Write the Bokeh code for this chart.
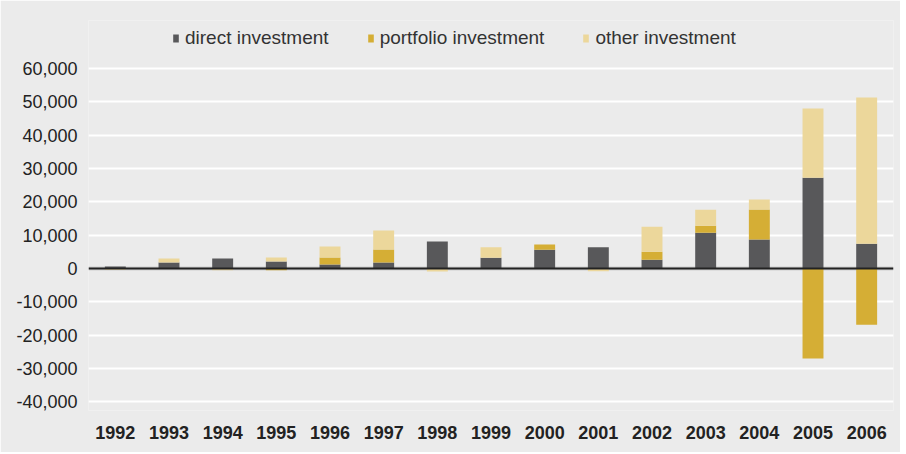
from bokeh.plotting import figure
from bokeh.models import (ColumnDataSource, FactorRange, Range1d, FixedTicker,
                          NumeralTickFormatter, Span, Legend, LegendItem)
from bokeh.embed import file_html
from bokeh.resources import INLINE

years = ["1992", "1993", "1994", "1995", "1996", "1997", "1998", "1999",
         "2000", "2001", "2002", "2003", "2004", "2005", "2006"]
direct = [600, 1800, 3000, 2100, 1200, 1800, 8100, 3200, 5600, 6400, 2600, 10700, 8700, 27200, 7400]
portfolio = [0, 0, 0, -500, 2100, 3900, 0, 0, 1600, 0, 2400, 2100, 9000, -27000, -16900]
other = [-400, 1200, -500, 1200, 3300, 5700, -900, 3200, 0, -800, 7500, 4800, 3000, 20800, 43900]
y_ticks = [-40000, -30000, -20000, -10000, 0, 10000, 20000, 30000, 40000, 50000, 60000]

series = [("direct investment", direct, "#58585a"),
          ("portfolio investment", portfolio, "#d5ae35"),
          ("other investment", other, "#ecd79b")]

BG = "#ebebeb"
FONT = "Liberation Sans"

p = figure(x_range=FactorRange(*years), y_range=Range1d(-42600, 74400),
           width=900, height=452, output_backend="svg", toolbar_location=None,
           min_border_left=88, min_border_right=7, min_border_top=20, min_border_bottom=42,
           background_fill_color=BG, border_fill_color=BG, outline_line_color=None)

p.add_layout(Span(location=0, dimension="width", line_color="#cfcfcf", line_width=4, level="underlay"))

pos_base = [0.0] * len(years)
neg_base = [0.0] * len(years)
items = []
for name, vals, color in series:
    pb, pt, nb, nt = [], [], [], []
    for i, v in enumerate(vals):
        if v >= 0:
            pb.append(pos_base[i]); pt.append(pos_base[i] + v); pos_base[i] += v
            nb.append(neg_base[i]); nt.append(neg_base[i])
        else:
            pb.append(pos_base[i]); pt.append(pos_base[i])
            nt.append(neg_base[i]); nb.append(neg_base[i] + v); neg_base[i] += v
    src_p = ColumnDataSource(dict(x=years, bottom=pb, top=pt))
    src_n = ColumnDataSource(dict(x=years, bottom=nb, top=nt))
    r = p.vbar(x="x", bottom="bottom", top="top", width=0.39, source=src_p,
               fill_color=color, line_color=None)
    p.vbar(x="x", bottom="bottom", top="top", width=0.39, source=src_n,
           fill_color=color, line_color=None)
    items.append(LegendItem(label=name, renderers=[r]))

p.add_layout(Span(location=0, dimension="width", line_color="#222222", line_width=2))

p.xgrid.grid_line_color = None
p.ygrid.grid_line_color = "white"
p.ygrid.grid_line_width = 2
p.ygrid.ticker = FixedTicker(ticks=y_ticks)
p.yaxis.ticker = FixedTicker(ticks=y_ticks)
p.yaxis.formatter = NumeralTickFormatter(format="0,0")
for ax in (p.xaxis[0], p.yaxis[0]):
    ax.axis_line_color = None
    ax.major_tick_line_color = None
    ax.minor_tick_line_color = None
    ax.major_label_text_font = FONT
    ax.major_label_text_color = "#222222"
p.yaxis.major_label_text_font_size = "18px"
p.xaxis.major_label_text_font_size = "18px"
p.yaxis.major_label_standoff = 5
p.xaxis.major_label_standoff = 9
p.xaxis.major_label_text_font_style = "bold"

legend = Legend(items=items, orientation="horizontal", location=(84, 361),
                background_fill_alpha=0, border_line_color=None,
                label_text_font=FONT, label_text_font_size="19px", label_text_color="#333333",
                glyph_width=7, glyph_height=10, label_standoff=6, spacing=38, padding=0, margin=0)
p.add_layout(legend)

open("out.html", "w").write(file_html(p, INLINE))
